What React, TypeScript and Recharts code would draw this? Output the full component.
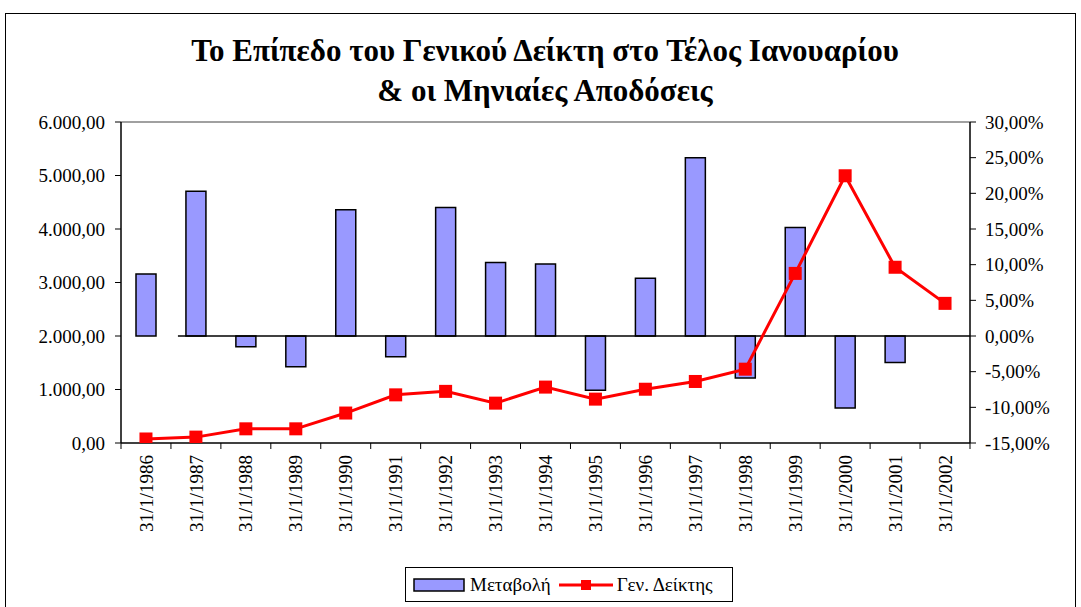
import React from 'react';
import {
  ComposedChart,
  Bar,
  Line,
  XAxis,
  YAxis,
  ReferenceLine,
} from 'recharts';

const categories = [
  '31/1/1986', '31/1/1987', '31/1/1988', '31/1/1989', '31/1/1990', '31/1/1991',
  '31/1/1992', '31/1/1993', '31/1/1994', '31/1/1995', '31/1/1996', '31/1/1997',
  '31/1/1998', '31/1/1999', '31/1/2000', '31/1/2001', '31/1/2002',
];

// Μεταβολή (%), right axis
const changePct = [
  8.7, 20.3, -1.5, -4.3, 17.7, -2.9, 18.0, 10.3, 10.1, -7.6, 8.1, 25.0, -5.9, 15.2, -10.1, -3.7, null,
];

// Γεν. Δείκτης, left axis
const indexLevel = [
  75, 110, 265, 265, 560, 900, 965, 745, 1045, 820, 1005, 1150, 1380, 3170, 4995, 3285, 2610,
];

const leftTicks = [0, 1000, 2000, 3000, 4000, 5000, 6000];
const rightTicks = [-15, -10, -5, 0, 5, 10, 15, 20, 25, 30];

const data = categories.map((date, i) => ({
  date,
  change: changePct[i],
  index: indexLevel[i],
}));

const FONT = '"Liberation Serif", "Times New Roman", serif';

const fmtLeft = (v: number) => {
  const s = Math.round(v).toString().replace(/\B(?=(\d{3})+(?!\d))/g, '.');
  return `${s},00`;
};
const fmtRight = (v: number) => `${v.toFixed(2).replace('.', ',')}%`;

const XTick = (props: any) => {
  const { x, y, payload } = props;
  const half = payload.offset ?? 25;
  const isLast = payload.value === categories[categories.length - 1];
  return (
    <g>
      <line x1={x - half} y1={y} x2={x - half} y2={y + 6} stroke="#000" strokeWidth={1} />
      {isLast && <line x1={x + half} y1={y} x2={x + half} y2={y + 6} stroke="#000" strokeWidth={1} />}
      <text
        x={x}
        y={y + 12}
        transform={`rotate(-90, ${x}, ${y + 12})`}
        textAnchor="end"
        dy="0.35em"
        fontFamily={FONT}
        fontSize={19}
        fill="#000"
      >
        {payload.value}
      </text>
    </g>
  );
};

const SquareDot = (props: any) => {
  const { cx, cy } = props;
  if (cx == null || cy == null) return null;
  return <rect x={cx - 6.5} y={cy - 6.5} width={13} height={13} fill="#FF0000" />;
};

// zero line of the bars, starting just after the first category like the original
const ZeroLine = (props: any) => {
  const { x1, y1, x2, y2 } = props;
  const left = Math.min(x1, x2);
  const right = Math.max(x1, x2);
  const band = (right - left) / categories.length;
  return <line x1={left + band * 1.14} y1={y1} x2={right} y2={y2} stroke="#000" strokeWidth={1.5} />;
};

const App: React.FC = () => {
  return (
    <div style={{ position: 'absolute', left: 0, top: 0, width: 1081, height: 607, background: '#fff', overflow: 'hidden' }}>
      {/* outer frame */}
      <div style={{ position: 'absolute', left: 5, top: 13, width: 1069, height: 620, border: '1px solid #000' }} />

      {/* title */}
      <div
        style={{
          position: 'absolute',
          left: 0,
          width: 1090,
          top: 31,
          textAlign: 'center',
          fontFamily: FONT,
          fontWeight: 'bold',
          fontSize: 31,
          lineHeight: '40px',
        }}
      >
        Το Επίπεδο του Γενικού Δείκτη στο Τέλος Ιανουαρίου
        <br />
        &amp; οι Μηνιαίες Αποδόσεις
      </div>

      <div style={{ position: 'absolute', left: 0, top: 0 }}>
        <ComposedChart
          width={1081}
          height={607}
          data={data}
          margin={{ top: 122, right: 11, left: 11, bottom: 59 }}
        >
          <XAxis
            dataKey="date"
            interval={0}
            height={105}
            tickSize={0}
            tickMargin={0}
            tickLine={false}
            axisLine={{ stroke: '#000', strokeWidth: 1.5 }}
            tick={<XTick />}
          />
          <YAxis
            yAxisId="left"
            orientation="left"
            width={110}
            domain={[0, 6000]}
            ticks={leftTicks}
            tickFormatter={fmtLeft}
            tickSize={6}
            tickMargin={10}
            tickLine={{ stroke: '#000' }}
            axisLine={{ stroke: '#000', strokeWidth: 1.5 }}
            tick={{ fill: '#000', fontSize: 19, fontFamily: FONT }}
            allowDataOverflow
          />
          <YAxis
            yAxisId="right"
            orientation="right"
            width={100}
            domain={[-15, 30]}
            ticks={rightTicks}
            tickFormatter={fmtRight}
            tickSize={6}
            tickMargin={9}
            tickLine={{ stroke: '#000' }}
            axisLine={{ stroke: '#000', strokeWidth: 1.5 }}
            tick={{ fill: '#000', fontSize: 19, fontFamily: FONT }}
            allowDataOverflow
          />
          <ReferenceLine yAxisId="left" y={6000} stroke="#808080" strokeWidth={1.5} />
          <Bar
            yAxisId="right"
            dataKey="change"
            fill="#9999FF"
            stroke="#000"
            strokeWidth={1.5}
            barSize={20}
            isAnimationActive={false}
          />
          <ReferenceLine yAxisId="right" y={0} shape={<ZeroLine />} />
          <Line
            yAxisId="left"
            dataKey="index"
            stroke="#FF0000"
            strokeWidth={3}
            dot={<SquareDot />}
            activeDot={false}
            isAnimationActive={false}
          />
        </ComposedChart>
      </div>

      {/* legend */}
      <div
        style={{
          position: 'absolute',
          left: 405,
          top: 567,
          width: 328,
          height: 35,
          border: '1px solid #000',
          boxSizing: 'border-box',
          display: 'flex',
          alignItems: 'center',
          fontFamily: FONT,
          fontSize: 19,
          whiteSpace: 'nowrap',
        }}
      >
        <svg width={58} height={16} style={{ marginLeft: 6 }}>
          <rect x={2} y={2} width={50} height={12} fill="#9999FF" stroke="#000" strokeWidth={1.5} />
        </svg>
        <span>Μεταβολή</span>
        <svg width={60} height={16} style={{ marginLeft: 6 }}>
          <line x1={2} y1={8} x2={56} y2={8} stroke="#FF0000" strokeWidth={3} />
          <rect x={24} y={3} width={10} height={10} fill="#FF0000" />
        </svg>
        <span>Γεν. Δείκτης</span>
      </div>
    </div>
  );
};

export default App;
